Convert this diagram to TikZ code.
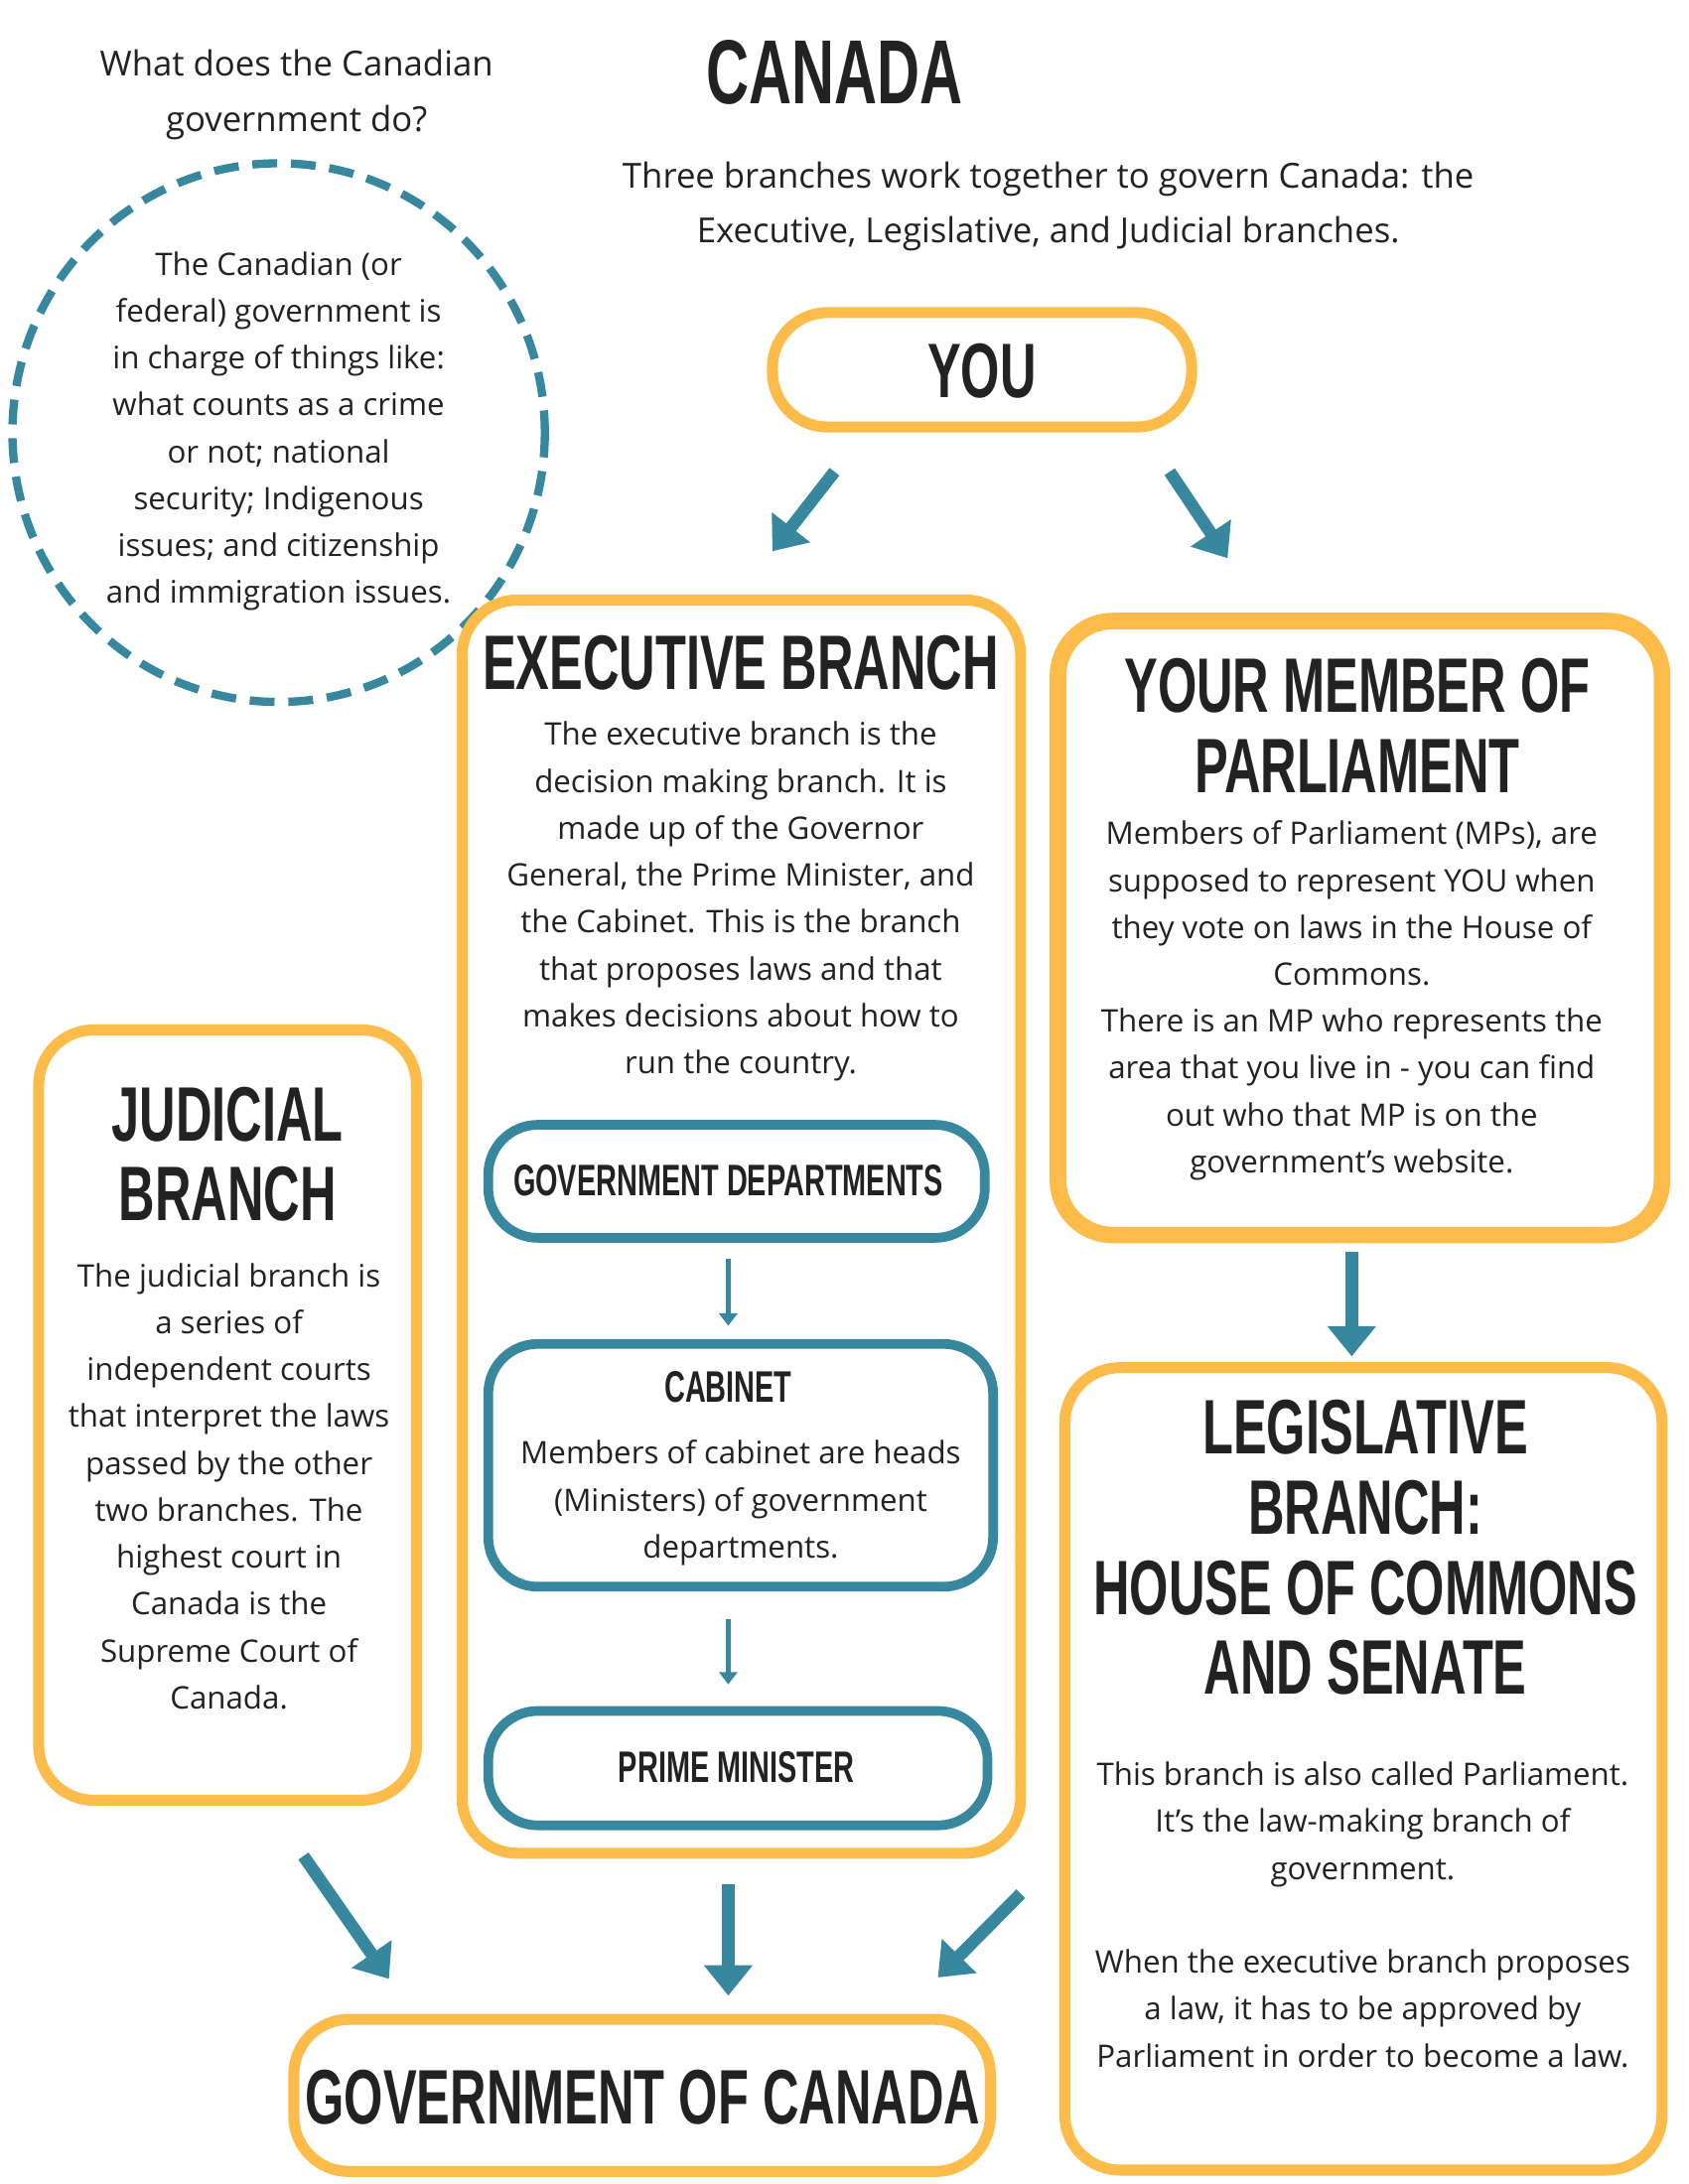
\documentclass[tikz,border=0pt]{standalone}
\usepackage{fontspec}
\setmainfont{Open Sans}
\newfontfamily\headfont[FakeStretch=0.65]{Liberation Sans Bold}
\usetikzlibrary{arrows.meta}
\definecolor{org}{HTML}{FDBB4A}
\definecolor{teal}{HTML}{37889E}
\definecolor{ink}{HTML}{222222}
\tikzset{
 obox/.style={draw=org,line width=8pt,rounded corners=40pt},
 tbox/.style={draw=teal,line width=7pt,rounded corners=36pt},
 body/.style={align=center,text=ink,font=\fontsize{22.5}{34}\selectfont},
 head/.style={align=center,text=ink,font=\headfont\fontsize{56}{58}\selectfont},
 shead/.style={align=center,text=ink,font=\headfont\fontsize{32}{34}\selectfont},
 bigarr/.style={draw=teal,line width=9pt,-{Triangle[length=22pt,width=34pt]}},
 smarr/.style={draw=teal,line width=3pt,-{Triangle[length=9pt,width=13pt]}},
}
\begin{document}
\begin{tikzpicture}[x=1pt,y=-1.012pt]
\useasboundingbox (0,0) rectangle (1224,1565);
\fill[white] (0,0) rectangle (1224,1565);
\node[head,font=\headfont\fontsize{66}{70}\selectfont] (title) at (605,52) {CANADA};
\node[body,font=\fontsize{25}{40}\selectfont] (q) at (215,68) {What does the Canadian\\government do?};
\node[body,font=\fontsize{25}{40}\selectfont] (sub) at (760,148) {Three branches work together to govern Canada: the\\Executive, Legislative, and Judicial branches.};
\draw[teal,line width=6pt,dash pattern=on 18pt off 10pt] (202,310) circle (193);
\node[body] (circ) at (202,309) {The Canadian (or\\federal) government is\\in charge of things like:\\what counts as a crime\\or not; national\\security; Indigenous\\issues; and citizenship\\and immigration issues.};
% YOU
\draw[obox] (560,224) rectangle (864,306);
\node[head] (you) at (712,266) {YOU};
\coordinate (a1s) at (605,338); \coordinate (a1e) at (560,395);
\coordinate (a2s) at (848,338); \coordinate (a2e) at (890,400);
\draw[bigarr] (a1s) -- (a1e);
\draw[bigarr] (a2s) -- (a2e);
% Executive
\draw[obox] (335,430) rectangle (740,1328);
\node[head] (exh) at (537,475) {EXECUTIVE BRANCH};
\node[body] (ext) at (537,646) {The executive branch is the\\decision making branch. It is\\made up of the Governor\\General, the Prime Minister, and\\the Cabinet. This is the branch\\that proposes laws and that\\makes decisions about how to\\run the country.};
\draw[tbox] (354,806) rectangle (714,887);
\node[shead] (gd) at (528,846) {GOVERNMENT DEPARTMENTS};
\coordinate (s1) at (528,902); \coordinate (e1) at (528,950);
\draw[smarr] (s1) -- (e1);
\draw[tbox] (354,963) rectangle (720,1137);
\node[shead] (cab) at (528,994) {CABINET};
\node[body] (cabt) at (537,1077) {Members of cabinet are heads\\(Ministers) of government\\departments.};
\coordinate (s2) at (528,1160); \coordinate (e2) at (528,1207);
\draw[smarr] (s2) -- (e2);
\draw[tbox] (354,1226) rectangle (716,1308);
\node[shead] (pm) at (534,1266) {PRIME MINISTER};
% MP
\draw[obox,line width=12pt] (767,445) rectangle (1205,885);
\node[head] (mph) at (984,520) {YOUR MEMBER OF\\PARLIAMENT};
\node[body] (mpt) at (980,717) {Members of Parliament (MPs), are\\supposed to represent YOU when\\they vote on laws in the House of\\Commons.\\There is an MP who represents the\\area that you live in - you can find\\out who that MP is on the\\government's website.};
\coordinate (s3) at (980,897); \coordinate (e3) at (980,972);
\draw[bigarr] (s3) -- (e3);
% Legislative
\draw[obox] (772,980) rectangle (1205,1555);
\node[head] (lh) at (990,1109) {LEGISLATIVE\\BRANCH:\\HOUSE OF COMMONS\\AND SENATE};
\node[body] (lt) at (988,1372) {This branch is also called Parliament.\\It's the law-making branch of\\government.\\[34pt]When the executive branch proposes\\a law, it has to be approved by\\Parliament in order to become a law.};
% Judicial
\draw[obox] (28,738) rectangle (302,1290);
\node[head] (jh) at (165,827) {JUDICIAL\\BRANCH};
\node[body] (jt) at (166,1065) {The judicial branch is\\a series of\\independent courts\\that interpret the laws\\passed by the other\\two branches. The\\highest court in\\Canada is the\\Supreme Court of\\Canada.};
% Gov of Canada
\draw[obox] (213,1447) rectangle (718,1556);
\node[head] (goc) at (466,1503) {GOVERNMENT OF CANADA};
\coordinate (s4) at (220,1330); \coordinate (e4) at (282,1418);
\coordinate (s5) at (528,1350); \coordinate (e5) at (528,1430);
\coordinate (s6) at (740,1357); \coordinate (e6) at (680,1417);
\draw[bigarr] (s4) -- (e4);
\draw[bigarr] (s5) -- (e5);
\draw[bigarr] (s6) -- (e6);
\end{tikzpicture}
\end{document}
